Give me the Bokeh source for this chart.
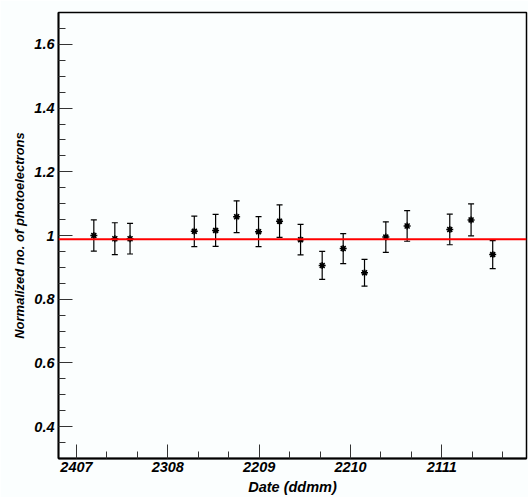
from bokeh.plotting import figure
from bokeh.models import ColumnDataSource, Whisker, FixedTicker, Span, Range1d, TeeHead
from bokeh.embed import file_html
from bokeh.resources import INLINE

# Days since 24 July (tick "2407")
days = [5.7, 12.6, 17.6, 38.7, 45.7, 52.6, 59.8, 66.7, 73.6, 80.7, 87.6,
        94.6, 101.6, 108.6, 122.6, 129.6, 136.7]
values = [1.000, 0.990, 0.990, 1.013, 1.016, 1.059, 1.012, 1.045, 0.987,
          0.906, 0.959, 0.883, 0.995, 1.030, 1.019, 1.049, 0.940]
errors = [0.049, 0.050, 0.048, 0.048, 0.050, 0.050, 0.047, 0.051, 0.048,
          0.044, 0.047, 0.042, 0.048, 0.048, 0.048, 0.050, 0.044]
fit_value = 0.988

tick_days = [0, 30, 60, 90, 120]
tick_labels = ["2407", "2308", "2209", "2210", "2111"]
minor_days = [10, 20, 40, 50, 70, 80, 100, 110, 130, 140]
y_major = [0.4, 0.6, 0.8, 1.0, 1.2, 1.4, 1.6]
y_minor = [0.35, 0.45, 0.5, 0.55, 0.65, 0.7, 0.75, 0.85, 0.9, 0.95, 1.05,
           1.1, 1.15, 1.25, 1.3, 1.35, 1.45, 1.5, 1.55, 1.65]

src = ColumnDataSource(dict(
    x=days, y=values,
    lo=[v - e for v, e in zip(values, errors)],
    hi=[v + e for v, e in zip(values, errors)],
))

bg = "#fbfefe"
p = figure(width=528, height=497, output_backend="svg", toolbar_location=None,
           x_range=Range1d(-5.9, 147.8), y_range=Range1d(0.3, 1.7),
           min_border_left=58, min_border_right=2, min_border_top=12,
           min_border_bottom=39,
           background_fill_color=bg, border_fill_color=bg)
p.grid.visible = False
p.outline_line_color = "black"
p.outline_line_width = 1.5

font = "Liberation Sans"
for ax in (p.xaxis[0], p.yaxis[0]):
    ax.axis_line_width = 1.8
    ax.axis_line_color = "black"
    ax.major_tick_in = 14
    ax.major_tick_out = 0
    ax.minor_tick_in = 7
    ax.minor_tick_out = 0
    ax.major_tick_line_color = "#333333"
    ax.minor_tick_line_color = "#333333"
    ax.major_label_text_font = font
    ax.major_label_text_font_style = "bold italic"
    ax.major_label_text_font_size = "14.5px"
    ax.major_label_text_color = "black"
    ax.axis_label_text_font = font
    ax.axis_label_text_font_style = "bold italic"
    ax.axis_label_text_color = "black"

p.xaxis.ticker = FixedTicker(ticks=tick_days, minor_ticks=minor_days)
p.xaxis.major_label_overrides = {t: l for t, l in zip(tick_days, tick_labels)}
p.xaxis.major_label_standoff = 3
p.xaxis.axis_label = "Date (ddmm)"
p.xaxis.axis_label_text_font_size = "14.5px"
p.xaxis.axis_label_standoff = 4

p.yaxis.ticker = FixedTicker(ticks=y_major, minor_ticks=y_minor)
p.yaxis.major_label_overrides = {1.0: "1"}
p.yaxis.major_label_standoff = 4
p.yaxis.axis_label = "Normalized no. of photoelectrons"
p.yaxis.axis_label_text_font_size = "13px"
p.yaxis.axis_label_standoff = 4

p.add_layout(Span(location=fit_value, dimension="width", line_color="red",
                  line_width=2))

p.add_layout(Whisker(source=src, base="x", lower="lo", upper="hi",
                     line_color="black", line_width=1.2,
                     upper_head=TeeHead(size=6, line_color="black", line_width=1.2),
                     lower_head=TeeHead(size=6, line_color="black", line_width=1.2)))

p.scatter("x", "y", source=src, marker="asterisk", size=7,
          line_color="black", line_width=1.5)
p.scatter("x", "y", source=src, marker="x", size=5,
          line_color="black", line_width=1.5)

open("out.html", "w").write(file_html(p, INLINE))
